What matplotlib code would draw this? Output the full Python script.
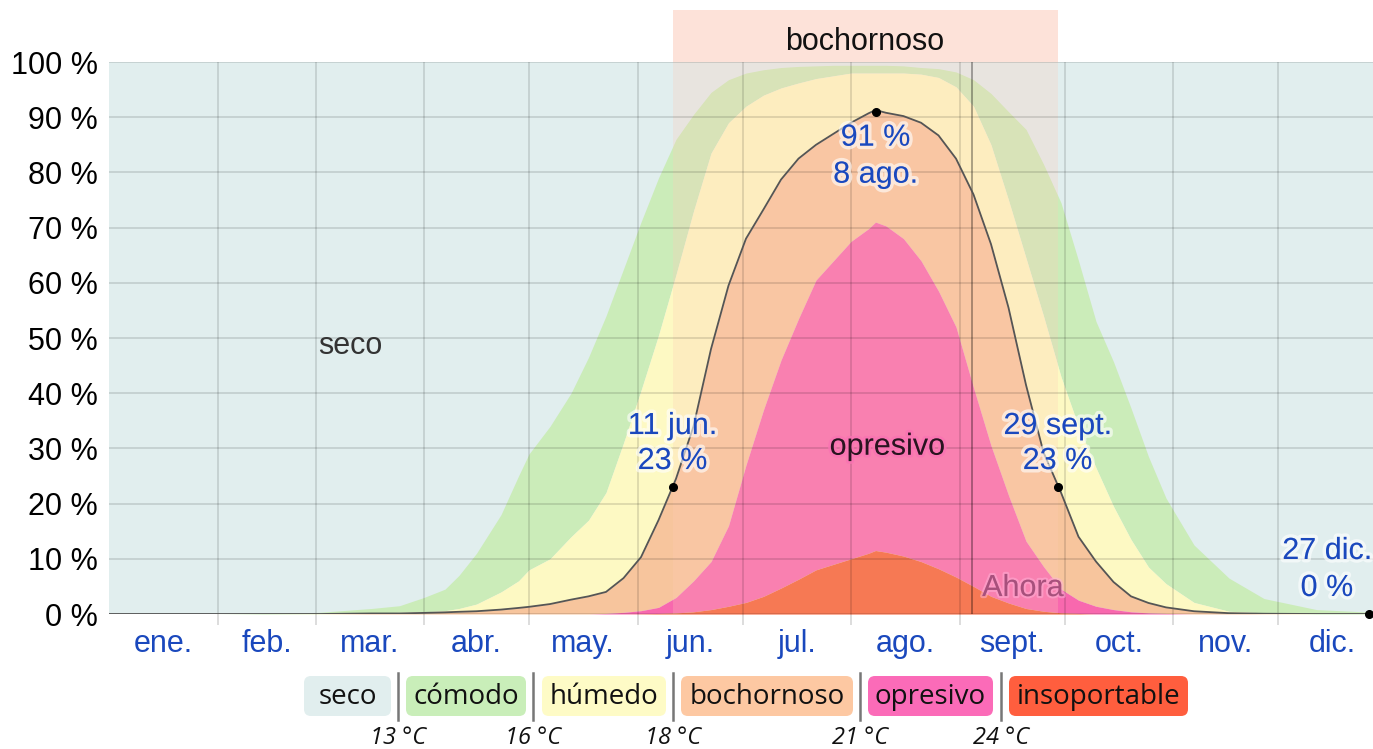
import matplotlib
matplotlib.use("Agg")
import matplotlib.pyplot as plt
import matplotlib.patheffects as pe
from matplotlib.patches import FancyBboxPatch, Rectangle

# día del año (0 = 1 ene.) y porcentaje acumulado de cada nivel de humedad
dias = [0, 30, 45, 60, 75, 83, 90, 96, 100, 105, 112, 117, 120, 126, 132, 137, 142, 147, 152, 157,
        162, 167, 172, 177, 182, 187, 192, 197, 202, 207, 212, 217, 219, 222, 227, 232, 237, 242, 247, 252,
        257, 262, 267, 272, 277, 282, 287, 292, 297, 302, 310, 320, 330, 345, 365]

comodo = [0, 0, 0.1, 0.3, 1.0, 1.5, 3, 4.5, 7, 11, 18, 25, 29, 34, 40, 46.5, 54, 62.5, 71, 79,
          86, 90.5, 94.5, 96.8, 98, 98.6, 99, 99.2, 99.3, 99.4, 99.4, 99.4, 99.4, 99.4, 99.3, 99, 98.8, 98.2, 96.8, 94.3,
          91, 87.8, 81.5, 74.5, 64, 53, 45.7, 37.3, 28.5, 21, 12.5, 6.5, 2.8, 0.8, 0.2]

humedo = [0, 0, 0, 0.05, 0.2, 0.3, 0.4, 0.6, 1.0, 1.8, 4, 6, 8, 10, 14, 17, 22, 31, 40.5, 50.5,
          61.5, 73, 83.5, 89, 92, 94, 95.3, 96.2, 97, 97.5, 98, 98, 98, 98, 98, 97.8, 97.2, 95.5, 92, 85,
          75, 64.5, 54, 43, 34, 26.5, 19.5, 13.5, 8.5, 5.5, 2.1, 0.5, 0.2, 0, 0]

bochornoso = [0, 0, 0, 0, 0.1, 0.1, 0.2, 0.3, 0.4, 0.5, 0.8, 1.1, 1.3, 1.8, 2.6, 3.2, 4.0, 6.5, 10.3, 17,
              24.5, 34, 48, 59.5, 68, 73.3, 78.7, 82.5, 85, 87, 89, 90.7, 91.3, 90.8, 90.2, 89, 86.7, 82.5, 76, 67,
              55.5, 41.5, 29.3, 22, 14, 9.5, 5.8, 3.2, 2.0, 1.2, 0.5, 0.15, 0.05, 0, 0]

opresivo = [0, 0, 0, 0, 0, 0, 0, 0, 0, 0, 0, 0, 0, 0, 0, 0, 0.1, 0.3, 0.6, 1.2,
            3, 6, 9.5, 16, 27, 37, 46, 53.5, 60.5, 64, 67.5, 69.8, 71, 70.3, 68, 64, 58.5, 52, 41, 30.5,
            21.5, 13.2, 8.6, 4.5, 2.5, 1.4, 0.8, 0.4, 0.2, 0.1, 0, 0, 0, 0, 0]

insoportable = [0, 0, 0, 0, 0, 0, 0, 0, 0, 0, 0, 0, 0, 0, 0, 0, 0, 0, 0.05, 0.1,
                0.2, 0.4, 0.8, 1.4, 2.1, 3.2, 4.7, 6.3, 8.0, 9.0, 10.0, 11.0, 11.5, 11.2, 10.5, 9.5, 8.2, 6.7, 5.0, 3.2,
                2.0, 1.0, 0.5, 0.2, 0.1, 0, 0, 0, 0, 0, 0, 0, 0, 0, 0]

meses = ["ene.", "feb.", "mar.", "abr.", "may.", "jun.", "jul.", "ago.", "sept.", "oct.", "nov.", "dic."]
inicio_mes = [0, 31, 59, 90, 120, 151, 181, 212, 243, 273, 304, 334, 365]

categorias = ["seco", "cómodo", "húmedo", "bochornoso", "opresivo", "insoportable"]
umbrales = ["13 °C", "16 °C", "18 °C", "21 °C", "24 °C"]

eventos_dia = [161, 219, 271, 360]
eventos_pct = [23, 91, 23, 0]
eventos_txt = [("11 jun.", "23 %"), ("91 %", "8 ago."), ("29 sept.", "23 %"), ("27 dic.", "0 %")]

periodo_bochornoso = (161, 271)
ahora = 246.6

plt.rcParams['font.family'] = ['Liberation Sans', 'DejaVu Sans']

W, H = 1373, 749
fig = plt.figure(figsize=(W / 100, H / 100), dpi=100)
ax = fig.add_axes([109 / W, 1 - 614 / H, (W - 109) / W, 552 / H])

azul = '#1a48bd'
ax.set_facecolor('#e1eeee')
ax.fill_between(dias, humedo, comodo, color='#cbecb9', lw=0)
ax.fill_between(dias, bochornoso, humedo, color='#fdf9c3', lw=0)
ax.fill_between(dias, opresivo, bochornoso, color='#f7c59d', lw=0)
ax.fill_between(dias, insoportable, opresivo, color='#f868ae', lw=0)
ax.fill_between(dias, 0, insoportable, color='#f45e34', lw=0)

# periodo bochornoso
p0, p1 = periodo_bochornoso
ax.add_patch(Rectangle((p0, 0), p1 - p0, 100, color='#ffcab6', alpha=0.25, lw=0, zorder=2))
ax.add_patch(Rectangle((p0, 100), p1 - p0, 9.4, color='#fde2d9', lw=0, clip_on=False, zorder=2))
ax.text((p0 + p1) / 2, 103.6, "bochornoso", ha='center', va='center', fontsize=22, color='#111')

ax.plot(dias, bochornoso, color='#555555', lw=1.3, zorder=4)

ax.set_xlim(0, (W - 109) / 3.5)
ax.set_ylim(0, 100)
for s in ax.spines.values():
    s.set_visible(False)

ax.set_xticks(inicio_mes[1:12])
ax.set_xticklabels([])
ax.set_xticks([(inicio_mes[i] + inicio_mes[i + 1]) / 2 for i in range(12)], minor=True)
ax.set_xticklabels(meses, minor=True, fontsize=22, color=azul)
ax.tick_params(axis='x', which='major', length=8, color=(0, 0, 0, 0.15), width=1.3)
ax.tick_params(axis='x', which='minor', length=0, pad=11)
ax.set_yticks(range(0, 101, 10))
ax.set_yticklabels([f"{v} %" for v in range(0, 101, 10)], fontsize=22)
ax.tick_params(axis='y', length=0, pad=8)
ax.set_axisbelow(False)
ax.grid(True, which='major', color='k', alpha=0.13, lw=1.3, zorder=3)

ax.axvline(ahora, color='k', alpha=0.35, lw=1.3, zorder=3)
ax.text(ahora + 14.5, 4.7, "Ahora", ha='center', va='center', fontsize=22, color='#a8507c', zorder=5,
        path_effects=[pe.withStroke(linewidth=3, foreground=(1, 0.7, 0.85, 0.5))])

ax.text(69, 48.6, "seco", ha='center', va='center', fontsize=22, color='#333333', zorder=5)
ax.text(222.3, 30.3, "opresivo", ha='center', va='center', fontsize=22, color='#2a1420', zorder=5,
        path_effects=[pe.withStroke(linewidth=4, foreground=(0.98, 0.45, 0.7, 0.8))])

ax.plot(eventos_dia, eventos_pct, 'o', color='k', ms=5.5, clip_on=False, zorder=6)
desplaz = [[(0, 61), (0, 26)], [(0, -26), (0, -63)], [(0, 61), (0, 26)], [(-42, 63), (-42, 26)]]
halo = [pe.withStroke(linewidth=5, foreground=(1, 1, 1, 0.6))]
for d, p, txt, off in zip(eventos_dia, eventos_pct, eventos_txt, desplaz):
    for t, o in zip(txt, off):
        ax.annotate(t, (d, p), xytext=o, textcoords='offset pixels', ha='center', va='center',
                    fontsize=22, color=azul, zorder=7, path_effects=halo)

# leyenda en píxeles
lg = fig.add_axes([0, 0, 1, 1], zorder=5)
lg.set_xlim(0, W)
lg.set_ylim(H, 0)
lg.axis('off')
cajas = [(304, 391), (406, 526), (542, 666), (681, 853), (868, 993), (1009, 1188)]
colores_leyenda = ['#e1eeee', '#c9eeb9', '#fefbc6', '#fdc8a2', '#fb6bb8', '#ff5e3e']
separadores = [398, 533, 673, 860, 1001]
for (x0, x1), col, nombre in zip(cajas, colores_leyenda, categorias):
    lg.add_patch(FancyBboxPatch((x0, 676), x1 - x0, 40, boxstyle="round,pad=0,rounding_size=7",
                                fc=col, ec='none'))
    lg.text((x0 + x1) / 2, 697, nombre, ha='center', va='center', fontsize=20,
            family='Open Sans', color='#111')
for x, t in zip(separadores, umbrales):
    lg.plot([x, x], [673, 720], color='#777777', lw=1.8)
    lg.text(x, 738, t, ha='center', va='center', fontsize=17, family='Open Sans',
            style='italic', color='#111')

fig.savefig("out.png", dpi=100)
